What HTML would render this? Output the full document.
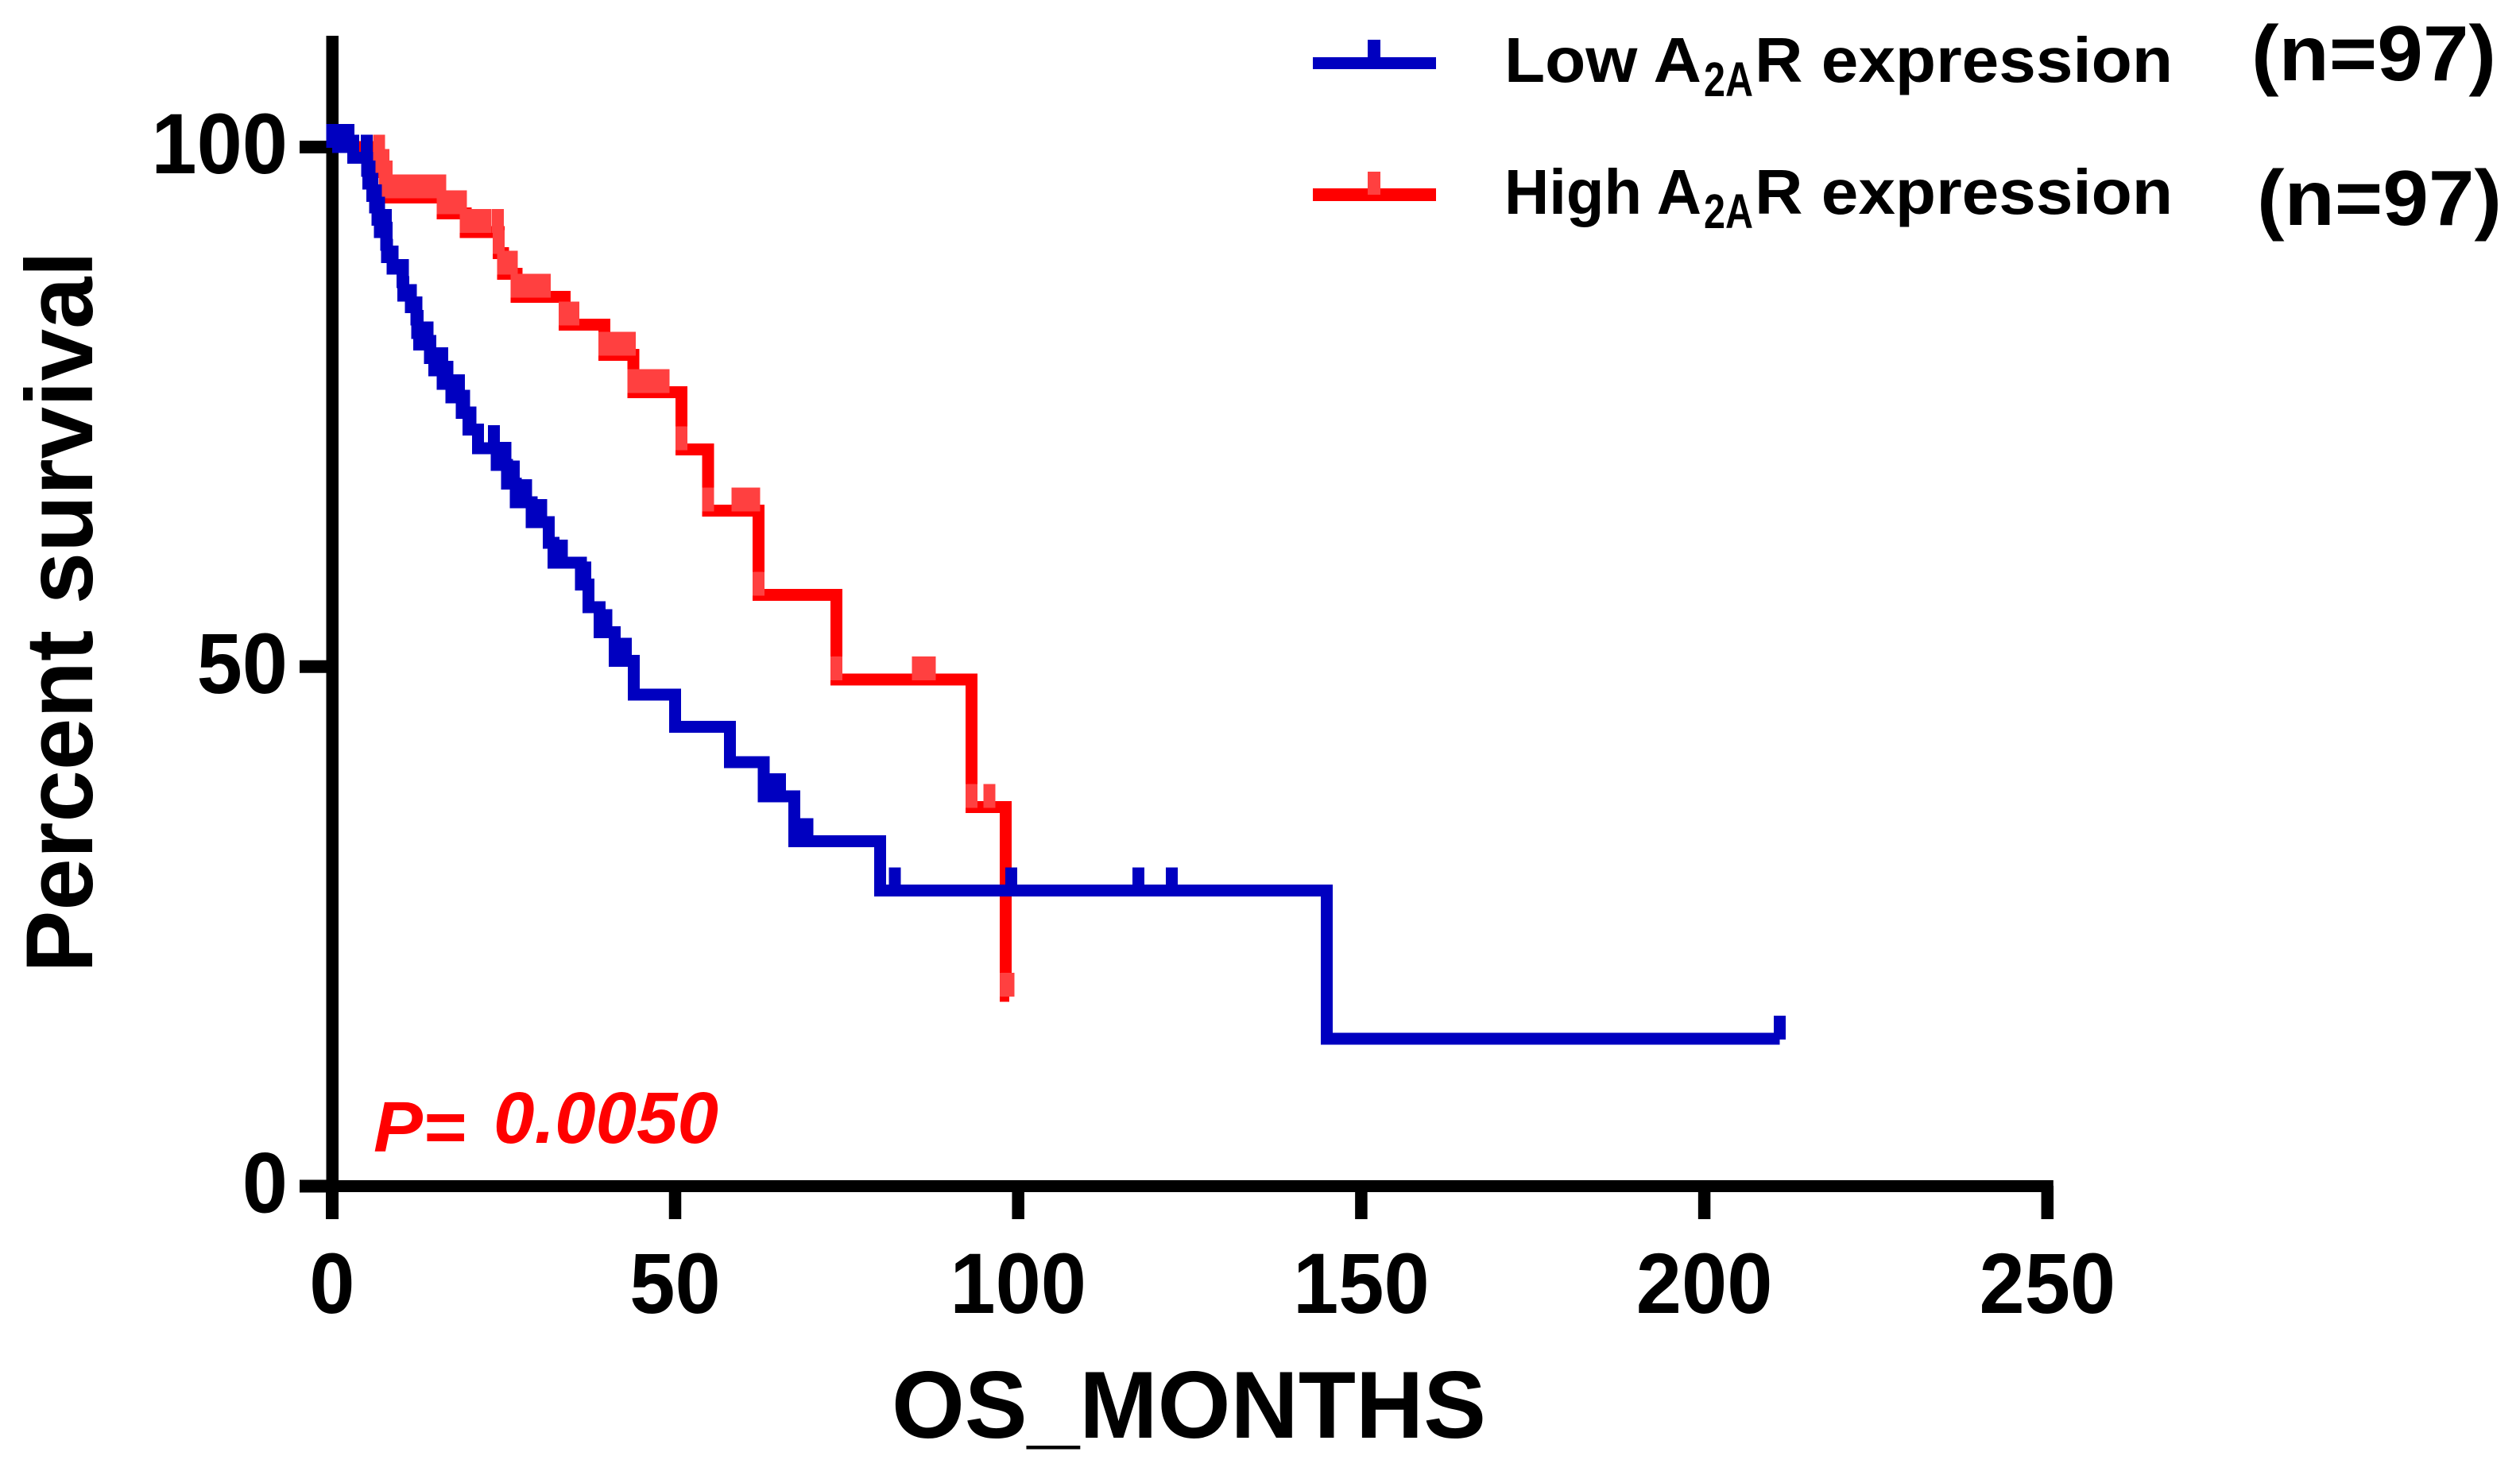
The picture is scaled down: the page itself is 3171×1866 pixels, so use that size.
<!DOCTYPE html>
<html lang="en">
<head>
<meta charset="utf-8">
<title>Survival by A2AR expression</title>
<style>
html,body{margin:0;padding:0;background:#fff;width:3171px;height:1866px;overflow:hidden}
svg{display:block}
text{font-family:"Liberation Sans",Arial,sans-serif;font-weight:700;fill:#000}
</style>
</head>
<body>
<svg id="chart" xmlns="http://www.w3.org/2000/svg" width="3171" height="1866" viewBox="0 0 3171 1866">
  <rect x="0" y="0" width="3171" height="1866" fill="#ffffff"/>
  <g id="axes"></g>
  <g id="series"></g>
  <g id="labels"></g>

  <text x="1122" y="1809" font-size="120" textLength="748" lengthAdjust="spacingAndGlyphs">OS_MONTHS</text>
  <text transform="translate(116,1224) rotate(-90)" x="0" y="0" font-size="120" textLength="908" lengthAdjust="spacingAndGlyphs">Percent survival</text>

  <text x="470" y="1449" font-size="90" font-style="italic" style="fill:#ff0000" textLength="116" lengthAdjust="spacingAndGlyphs">P=</text>
  <text x="621" y="1438" font-size="92" font-style="italic" style="fill:#ff0000" textLength="283" lengthAdjust="spacingAndGlyphs">0.0050</text>

  <g>
    <rect x="1652" y="72" width="155" height="15" fill="#0000c0"/>
    <rect x="1721" y="50" width="16" height="24" fill="#0000c0"/>
    <text x="1893" y="103" font-size="80" textLength="248" lengthAdjust="spacingAndGlyphs">Low A</text>
    <text x="2144" y="121" font-size="61" textLength="62" lengthAdjust="spacingAndGlyphs">2A</text>
    <text x="2208" y="103" font-size="80" textLength="526" lengthAdjust="spacingAndGlyphs">R expression</text>
    <text x="2833" y="101" font-size="98" textLength="308" lengthAdjust="spacingAndGlyphs">(n=97)</text>
  </g>
  <g>
    <rect x="1652" y="237" width="155" height="16" fill="#ff0000"/>
    <rect x="1721" y="216" width="16" height="29" fill="#ff4040"/>
    <text x="1893" y="269" font-size="80" textLength="248" lengthAdjust="spacingAndGlyphs">High A</text>
    <text x="2144" y="287" font-size="61" textLength="62" lengthAdjust="spacingAndGlyphs">2A</text>
    <text x="2208" y="269" font-size="80" textLength="526" lengthAdjust="spacingAndGlyphs">R expression</text>
    <text x="2840" y="283" font-size="98" textLength="308" lengthAdjust="spacingAndGlyphs">(n=97)</text>
  </g>
</svg>
<script>
// ---- chart data (months, percent survival) ----
const xTicks = [0, 50, 100, 150, 200, 250];
const yTicks = [0, 50, 100];

const lowTimes = [0, 3.1, 5.1, 5.3, 5.9, 6.25, 6.6, 6.95, 7.9, 8, 8.8, 10.3, 10.4, 11.5, 12.3, 12.4, 12.7, 14.25, 14.9, 16.1, 17.4, 18.9, 19.9, 21.3, 24, 25.5, 26.75, 29.07, 31.6, 32.3, 36.3, 37.4, 39, 41.2, 44, 50, 58, 62.9, 67.4, 79.9, 145];
const lowSurvival = [100, 98.97, 97.7, 96.5, 95.3, 94.2, 93, 91.8, 90.6, 89.4, 88.3, 87, 85.7, 84.6, 83.4, 82.1, 81, 79.7, 78.5, 77.2, 75.9, 74.4, 72.8, 71, 69.4, 67.6, 65.8, 63.9, 61.9, 60, 57.9, 55.7, 53.3, 50.55, 47.3, 44.2, 40.8, 37.5, 33.2, 28.45, 14.2];
const lowCensored = [0, 1, 2.4, 3.1, 5.07, 5.44, 5.9, 6.37, 6.83, 7.04, 7.87, 7.97, 8.8, 10.35, 11.5, 12.3, 12.5, 13.9, 14.3, 16.05, 16.8, 18.5, 19.25, 20.2, 21.3, 23.6, 24, 25.3, 25.5, 26.5, 26.75, 28.3, 29.2, 30.5, 32.3, 33.5, 36.3, 36.9, 39, 40, 41.2, 42.8, 63.5, 64.4, 65.3, 67.4, 68.4, 69.3, 82, 99, 117.5, 122.4, 211];
const lowEnd = 211;

const highTimes = [0, 6.83, 6.85, 7.65, 8.1, 16.1, 19.5, 24.3, 24.9, 26.9, 33.9, 39.7, 43.9, 50.9, 54.8, 62.15, 73.5, 93.2, 98.2];
const highSurvival = [100, 98.97, 97.6, 96.5, 95.15, 93.6, 91.8, 89.8, 87.8, 85.6, 82.9, 80, 76.4, 70.9, 65, 56.9, 48.75, 36.5, 18.3];
const highCensored = [6.83, 6.85, 7.5, 7.65, 7.95, 8.1, 9.3, 10.5, 11.7, 12.9, 14.1, 15.3, 15.75, 16.1, 17.4, 18.76, 19.5, 20.9, 22.35, 24.2, 24.3, 24.9, 26.2, 26.9, 28.15, 29.5, 31, 33.9, 35.2, 39.7, 41, 42.5, 43.4, 43.9, 45.5, 46.9, 48.3, 50.9, 54.8, 59.1, 60.3, 61.5, 62.15, 73.5, 85.4, 86.3, 87.1, 93.2, 95.8, 98.2, 98.6];
const highEnd = 98.7;

// ---- axis functions ----
const NS = 'http://www.w3.org/2000/svg';
function xScale(t) { return 417.8 + 8.634 * t; }
function yScale(s) { return 1492.5 - 13.075 * s; }

function make(tag, parent, attrs) {
  const el = document.createElementNS(NS, tag);
  for (const k in attrs) el.setAttribute(k, attrs[k]);
  parent.appendChild(el);
  return el;
}
function levelAt(times, surv, t) {
  let level = surv[0];
  for (let i = 0; i < times.length; i++) {
    if (times[i] <= t) level = surv[i];
  }
  return level;
}
function stepPath(times, surv, end) {
  let d = 'M' + xScale(times[0]) + ' ' + yScale(surv[0]);
  for (let i = 1; i < times.length; i++) {
    d += ' H' + xScale(times[i]) + ' V' + yScale(surv[i]);
  }
  return d + ' H' + xScale(end);
}

// ---- axes ----
const axes = document.getElementById('axes');
const labels = document.getElementById('labels');

const yAxisLine = make('rect', axes, { x: 410.5, y: 45, width: 15.5, height: 1489, fill: '#000' });



const xAxisLine = make('rect', axes, { x: 377, y: 1485, width: xScale(250) + 7.5 - 377, height: 15, fill: '#000' });



xTicks.forEach(function (v) {
  const tick = make('rect', axes, { x: xScale(v) - 7.75, y: 1492, width: 15.5, height: 42, fill: '#000' });
  
  
  const label = make('text', labels, { x: xScale(v), y: 1652, 'font-size': 108, 'text-anchor': 'middle', textLength: String(v).length * 57.2, lengthAdjust: 'spacingAndGlyphs' });
  label.textContent = String(v);
  
  
});

yTicks.forEach(function (v) {
  const tick = make('rect', axes, { x: 377, y: yScale(v) - 8, width: 45, height: 16, fill: '#000' });
  
  
  const label = make('text', labels, { x: 362, y: yScale(v) + 33, 'font-size': 108, 'text-anchor': 'end', textLength: String(v).length * 57.2, lengthAdjust: 'spacingAndGlyphs' });
  label.textContent = String(v);
  
  
});

// ---- series ----
const seriesLayer = document.getElementById('series');

function drawCensor(group, times, surv, censored, color) {
  censored.forEach(function (t) {
    const yc = yScale(levelAt(times, surv, t));
    const mark = make('rect', group, { x: xScale(t) - 7.5, y: yc - 29, width: 15, height: 30, fill: color });
    
    
  });
}

const highGroup = make('g', seriesLayer, { 'shape-rendering': 'crispEdges' });


const highLine = make('path', highGroup, { d: stepPath(highTimes, highSurvival, highEnd), fill: 'none', stroke: '#ff0000', 'stroke-width': 15, 'stroke-linejoin': 'miter', 'stroke-miterlimit': 4 });


drawCensor(highGroup, highTimes, highSurvival, highCensored, '#ff4040');

const lowGroup = make('g', seriesLayer, { 'shape-rendering': 'crispEdges' });


const lowLine = make('path', lowGroup, { d: stepPath(lowTimes, lowSurvival, lowEnd), fill: 'none', stroke: '#0000c0', 'stroke-width': 15, 'stroke-linejoin': 'miter', 'stroke-miterlimit': 4 });


drawCensor(lowGroup, lowTimes, lowSurvival, lowCensored, '#0000c0');
</script>
</body>
</html>
